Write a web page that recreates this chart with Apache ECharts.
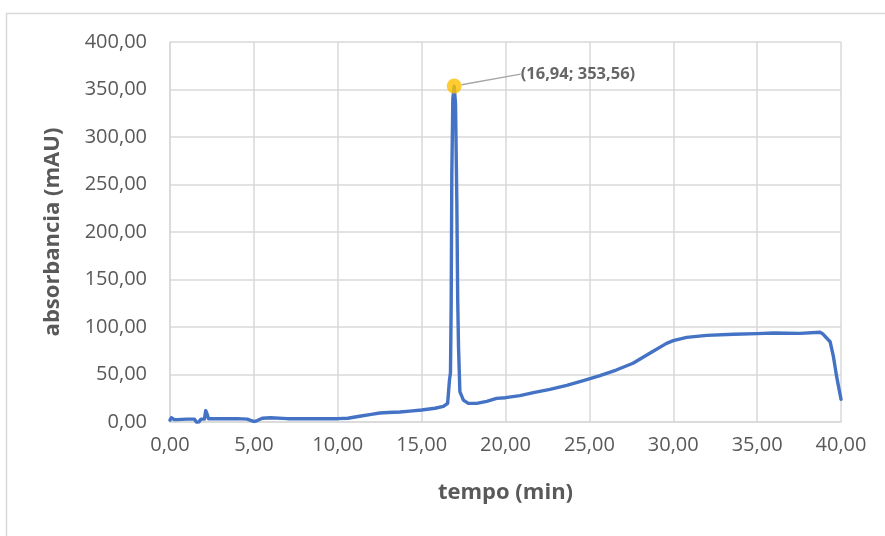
<!DOCTYPE html>
<html>
<head>
<meta charset="utf-8">
<script src="https://cdn.jsdelivr.net/npm/echarts@6/dist/echarts.min.js"></script>
<style>html,body{margin:0;padding:0;background:#fff}#c{width:885px;height:536px}</style>
</head>
<body>
<div id="c"></div>
<script>
const tempo = [0, 0.08, 0.15, 0.25, 0.4, 1.0, 1.45, 1.6, 1.72, 1.85, 2.05, 2.13, 2.2, 2.3, 3.0, 4.0, 4.6, 4.85, 5.0, 5.2, 5.5, 6.0, 7.0, 8.5, 10.0, 10.6, 11.3, 12.0, 12.5, 13.0, 13.7, 14.3, 15.0, 15.8, 16.3, 16.55, 16.66, 16.72, 16.76, 16.80, 16.86, 16.94, 17.02, 17.10, 17.15, 17.20, 17.28, 17.49, 17.78, 18.28, 18.88, 19.47, 20.0, 20.86, 21.66, 22.65, 23.65, 24.64, 25.63, 26.6, 27.6, 28.6, 29.6, 30.0, 30.8, 32.0, 33.6, 35.0, 36.0, 37.55, 38.75, 38.9, 39.35, 39.55, 39.74, 40.0];
const absorbancia = [2.0, 4.5, 5.0, 2.5, 2.5, 3.0, 3.0, -0.5, 0.0, 3.0, 3.0, 12.0, 9.0, 3.5, 3.5, 3.5, 3.0, 1.5, 0.5, 1.5, 4.0, 4.5, 3.5, 3.5, 3.5, 4.0, 6.0, 8.0, 9.5, 10.0, 10.5, 11.5, 12.6, 14.5, 16.5, 19.6, 44.0, 52.0, 120.0, 260.0, 340.0, 353.56, 335.0, 230.0, 130.0, 79.0, 32.0, 23.0, 19.6, 19.6, 21.8, 24.9, 25.6, 27.7, 30.9, 34.4, 38.6, 43.5, 48.8, 54.7, 61.8, 72.3, 82.8, 85.6, 89.1, 91.2, 92.3, 93.0, 93.7, 93.3, 94.4, 93.0, 84.5, 68.7, 47.7, 23.9];
const picco = [16.94, 353.56];
const xTicks = {min: 0, max: 40, step: 5};
const yTicks = {min: 0, max: 400, step: 50};
const xTitle = 'tempo (min)';
const yTitle = 'absorbancia (mAU)';

const fmt = v => v.toFixed(2).replace('.', ',');
const lineData = tempo.map((t, i) => [t, absorbancia[i]]);
const FONT = 'Open Sans';

const chart = echarts.init(document.getElementById('c'), null, {renderer: 'canvas'});
chart.setOption({
  backgroundColor: '#ffffff',
  animation: false,
  textStyle: {fontFamily: FONT},
  graphic: [{
    type: 'rect', shape: {x: 6.5, y: 13.5, width: 900, height: 600},
    style: {fill: 'none', stroke: '#d9d9d9', lineWidth: 1.5}, z: -1
  }],
  grid: {left: 170, right: 44, top: 42, bottom: 114, containLabel: false},
  xAxis: {
    type: 'value', min: xTicks.min, max: xTicks.max, interval: xTicks.step,
    name: xTitle, nameLocation: 'middle', nameGap: 60,
    nameTextStyle: {fontFamily: FONT, fontWeight: 'bold', fontSize: 22, color: '#595959'},
    axisLine: {show: true, lineStyle: {color: '#d9d9d9', width: 1.5}},
    axisTick: {show: false},
    axisLabel: {formatter: fmt, fontFamily: FONT, fontSize: 20, color: '#595959', margin: 13},
    splitLine: {show: true, lineStyle: {color: '#d9d9d9', width: 1.5}}
  },
  yAxis: {
    type: 'value', min: yTicks.min, max: yTicks.max, interval: yTicks.step,
    name: yTitle, nameLocation: 'middle', nameGap: 106, nameRotate: 90,
    nameTextStyle: {fontFamily: FONT, fontWeight: 'bold', fontSize: 22, color: '#595959'},
    axisLine: {show: true, lineStyle: {color: '#d9d9d9', width: 1.5}},
    axisTick: {show: false},
    axisLabel: {formatter: fmt, fontFamily: FONT, fontSize: 20, color: '#595959', margin: 23},
    splitLine: {show: true, lineStyle: {color: '#d9d9d9', width: 1.5}}
  },
  series: [{
    type: 'line', data: lineData, showSymbol: false, symbol: 'none',
    lineStyle: {color: '#4472C4', width: 3.4, join: 'round', cap: 'round'},
    z: 3
  }, {
    type: 'scatter', data: [picco], symbolSize: 15,
    itemStyle: {color: '#FFC000'},
    label: {
      show: true, position: 'right',
      formatter: p => '(' + fmt(p.value[0]) + '; ' + fmt(p.value[1]) + ')',
      fontFamily: FONT, fontWeight: 'bold', fontSize: 16.5, color: '#404040'
    },
    labelLayout: {dx: 54, dy: -12},
    labelLine: {show: true, lineStyle: {color: '#a6a6a6', width: 1.5}},
    z: 5
  }]
});
</script>
</body>
</html>
